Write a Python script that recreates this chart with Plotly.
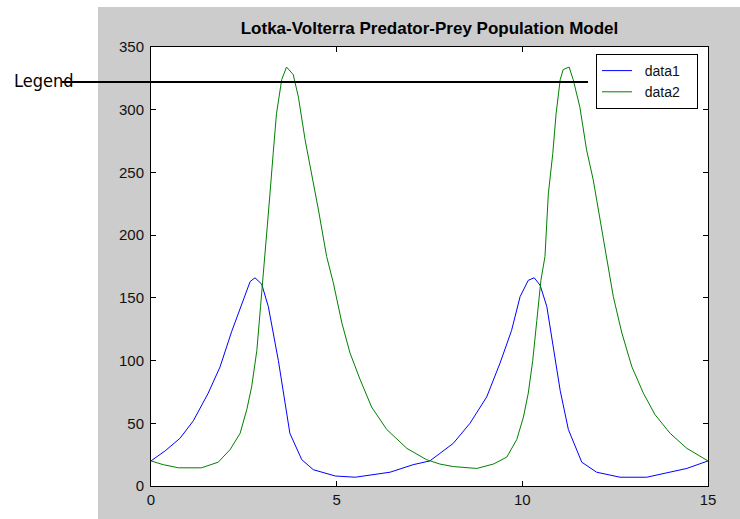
import plotly.graph_objects as go

# ---- data ----
t_prey = [0, 0.38, 0.78, 1.14, 1.54, 1.86, 2.17, 2.40, 2.67, 2.80, 2.98, 3.16, 3.30, 3.43,
          3.74, 4.06, 4.37, 4.96, 5.50, 5.72, 6.44, 7.06, 7.51, 7.78, 8.14, 8.59, 9.04,
          9.40, 9.71, 9.94, 10.16, 10.32, 10.48, 10.66, 10.83, 11.02, 11.24, 11.60,
          12.00, 12.63, 13.35, 13.98, 14.43, 15.0]
prey = [20, 28, 38, 52, 74, 95, 123, 142, 163, 166, 161, 143, 122, 100,
        42, 21, 13, 8, 7, 8, 11, 17, 20, 26, 34, 50, 71,
        98, 124, 151, 164, 166, 160, 143, 111, 76, 45, 19,
        11, 7, 7, 11, 14, 20]

t_pred = [0, 0.33, 0.74, 1.36, 1.81, 2.13, 2.40, 2.58, 2.71, 2.85, 2.95, 3.07, 3.19, 3.29,
          3.38, 3.52, 3.65, 3.83, 3.97, 4.15, 4.33, 4.51, 4.73, 4.91, 5.14, 5.36, 5.63,
          5.94, 6.35, 6.89, 7.42, 7.78, 8.14, 8.77, 9.22, 9.58, 9.85, 10.03, 10.16, 10.28,
          10.39, 10.50, 10.61, 10.70, 10.82, 10.91, 11.02, 11.10, 11.26, 11.37, 11.55,
          11.73, 11.91, 12.09, 12.27, 12.45, 12.68, 12.95, 13.26, 13.57, 13.98, 14.43, 15.0]
pred = [20, 17, 14.5, 14.5, 19, 29, 42, 61, 79, 108, 143, 183, 228, 265,
        297, 324, 334, 328, 310, 276, 249, 220, 183, 162, 130, 106, 85,
        63, 45, 30, 21, 17.5, 15.5, 14, 17.5, 23, 37, 55, 74, 100,
        132, 164, 183, 233, 265, 297, 324, 332, 334, 324, 302,
        268, 244, 212, 180, 151, 122, 95, 74, 57, 42, 30, 20]

series_names = ["data1", "data2"]
title_text = "Lotka-Volterra Predator-Prey Population Model"
x_ticks = [0, 5, 10, 15]
y_ticks = [0, 50, 100, 150, 200, 250, 300, 350]
callout_text = "Legend"

# ---- layout geometry (pixels) ----
W, H = 740, 519
ML, MR, MT, MB = 151, 32, 47, 33
PW, PH = W - ML - MR, H - MT - MB


def px(x):
    return (x - ML) / PW


def py(y):
    return (H - MB - y) / PH


FONT = "Liberation Sans, Arial, Helvetica, sans-serif"
LEAD = "\u00a0\u00a0"
TRAIL = "\u00a0\u00a0\u00a0"

fig = go.Figure()
fig.add_trace(go.Scatter(x=t_prey, y=prey, mode="lines", name=LEAD + series_names[0] + TRAIL,
                         line=dict(color="#0000ff", width=1)))
fig.add_trace(go.Scatter(x=t_pred, y=pred, mode="lines", name=LEAD + series_names[1] + TRAIL,
                         line=dict(color="#008000", width=1)))

axis_common = dict(showgrid=False, zeroline=False, showline=True, linecolor="#000000",
                   linewidth=1, mirror="ticks", ticks="inside", ticklen=5,
                   tickcolor="#000000", tickfont=dict(family=FONT, size=15, color="#111111"))

fig.update_xaxes(range=[0, 15], tickvals=x_ticks, **axis_common)
fig.update_yaxes(range=[0, 350], tickvals=y_ticks, ticklabelstandoff=3, **axis_common)

shapes = [
    # white page outside the grey figure
    dict(type="rect", xref="paper", yref="paper", x0=px(0), x1=px(98), y0=py(H), y1=py(0),
         fillcolor="#ffffff", line=dict(width=0), layer="below"),
    dict(type="rect", xref="paper", yref="paper", x0=px(0), x1=px(W), y0=py(7), y1=py(0),
         fillcolor="#ffffff", line=dict(width=0), layer="below"),
    # callout line
    dict(type="line", xref="paper", yref="paper", x0=px(62), x1=px(588), y0=py(82), y1=py(82),
         line=dict(color="#000000", width=2), layer="above"),
]

fig.update_layout(
    width=W, height=H,
    margin=dict(l=ML, r=MR, t=MT, b=MB),
    paper_bgcolor="#cccccc", plot_bgcolor="#ffffff",
    title=dict(text="<b>" + title_text + "</b>", x=px(429.5), xanchor="center",
               y=1 - 28 / H, yanchor="middle", yref="container", xref="paper",
               font=dict(family=FONT, size=17, color="#000000")),
    showlegend=True,
    legend=dict(x=px(698), y=py(54), xanchor="right", yanchor="top",
                bgcolor="#ffffff", bordercolor="#000000", borderwidth=1,
                font=dict(family=FONT, size=14, color="#111111"), itemwidth=30),
    shapes=shapes,
    annotations=[dict(text=callout_text, xref="paper", yref="paper", x=px(12), y=py(80),
                      xanchor="left", yanchor="middle", showarrow=False,
                      font=dict(family="Liberation Sans Narrow, DejaVu Sans Condensed, Arial Narrow, sans-serif",
                                size=18, color="#000000"))],
)

fig.write_html("out.html", config={"displayModeBar": False},
               post_script="document.body.style.margin='0';")
